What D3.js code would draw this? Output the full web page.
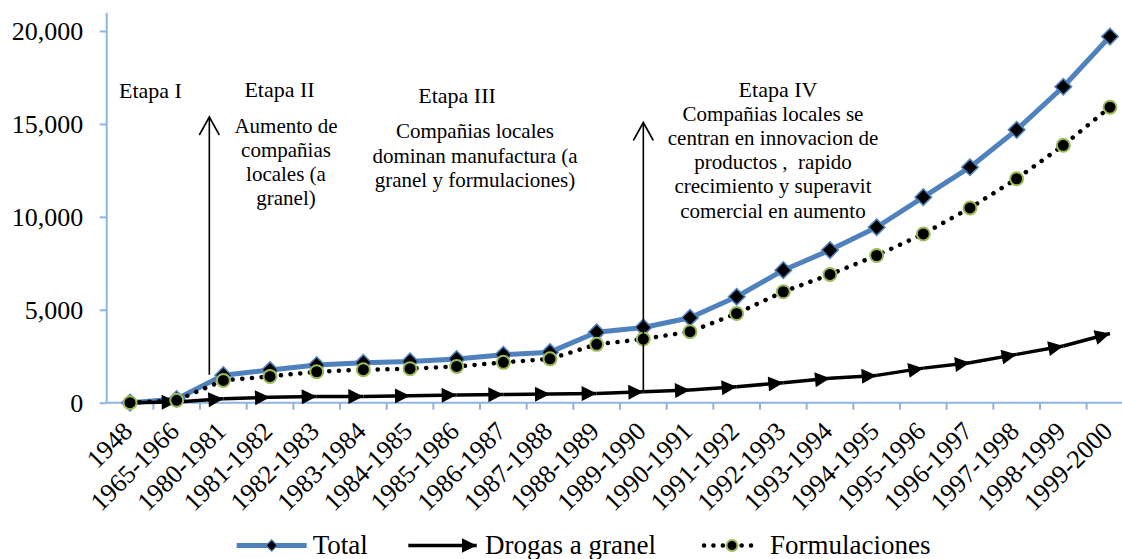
<!DOCTYPE html>
<html><head><meta charset="utf-8">
<script src="https://cdn.jsdelivr.net/npm/d3@7"></script>
<style>html,body{margin:0;padding:0;background:#fff;overflow:hidden}
svg text{font-family:"Liberation Serif","Times New Roman",Times,serif}</style>
</head><body><svg id="c" width="1122" height="559"></svg>
<script>
const categories = ["1948","1965-1966","1980-1981","1981-1982","1982-1983","1983-1984","1984-1985","1985-1986","1986-1987","1987-1988","1988-1989","1989-1990","1990-1991","1991-1992","1992-1993","1993-1994","1994-1995","1995-1996","1996-1997","1997-1998","1998-1999","1999-2000"];
const total = [0, 200, 1480, 1760, 2030, 2150, 2220, 2350, 2580, 2720, 3790, 4050, 4570, 5700, 7130, 8210, 9440, 11060, 12670, 14680, 17000, 19700];
const drogas = [0, 40, 215, 290, 330, 340, 370, 410, 440, 470, 500, 590, 680, 860, 1075, 1310, 1470, 1860, 2150, 2600, 3050, 3720];
const formulaciones = [0, 130, 1200, 1415, 1665, 1775, 1830, 1950, 2170, 2360, 3140, 3425, 3820, 4800, 5970, 6900, 7920, 9080, 10480, 12050, 13850, 15900];
const yTicks = [0, 5000, 10000, 15000, 20000];
const seriesNames = ["Total", "Drogas a granel", "Formulaciones"];
const etapaTitles = ["Etapa I", "Etapa II", "Etapa III", "Etapa IV"];
const etapa2Text = ["Aumento de", "compañias", "locales (a", "granel)"];
const etapa3Text = ["Compañias locales", "dominan manufactura (a", "granel y formulaciones)"];
const etapa4Text = ["Compañias locales se", "centran en innovacion de", "productos ,  rapido", "crecimiento y superavit", "comercial en aumento"];

const FONT = '"Liberation Serif","Times New Roman",Times,serif';
const AXIS = "#8EB4E3";
const BLUE = "#4F81BD";
const GREEN = "#9BBB59";

const svg = d3.select("#c");
const x = d3.scaleBand().domain(categories).range([106.7, 1133.3]);
const y = d3.scaleLinear().domain([0, 20000]).range([402.7, 31]);
const cx = c => x(c) + x.bandwidth() / 2;

const defs = svg.append("defs");
defs.append("marker").attr("id", "tri")
  .attr("viewBox", "0 0 10 10").attr("refX", 10).attr("refY", 5)
  .attr("markerUnits", "userSpaceOnUse").attr("markerWidth", 16).attr("markerHeight", 15)
  .attr("orient", "auto")
  .append("path").attr("d", "M0,0 L10,5 L0,10 Z").attr("fill", "#000");
defs.append("marker").attr("id", "triLeg")
  .attr("viewBox", "0 0 10 10").attr("refX", 10).attr("refY", 5)
  .attr("markerUnits", "userSpaceOnUse").attr("markerWidth", 15).attr("markerHeight", 15)
  .attr("orient", "auto")
  .append("path").attr("d", "M0,0 L10,5 L0,10 Z").attr("fill", "#000");

// Y axis
const yAxis = svg.append("g").attr("transform", "translate(106.7,0)")
  .call(d3.axisLeft(y).tickValues(yTicks).tickFormat(d3.format(",")).tickSize(7).tickPadding(16.5));
yAxis.attr("font-family", null).attr("font-size", null);
yAxis.select(".domain").remove();
yAxis.selectAll(".tick line").attr("stroke", AXIS).attr("stroke-width", 2);
yAxis.selectAll(".tick text").style("font-family", FONT).style("font-size", "26px").attr("fill", "#000");
svg.append("line").attr("x1", 106.7).attr("x2", 106.7).attr("y1", 13).attr("y2", y(0))
  .attr("stroke", AXIS).attr("stroke-width", 2);

// X axis
const xAxis = svg.append("g").attr("transform", `translate(0,${y(0)})`)
  .call(d3.axisBottom(x).tickSize(0));
xAxis.attr("font-family", null).attr("font-size", null);
xAxis.select(".domain").remove();
xAxis.selectAll(".tick text")
  .style("font-family", FONT).style("font-size", "26px").attr("fill", "#000")
  .attr("text-anchor", "end").attr("y", 0).attr("dy", 0)
  .attr("transform", "translate(4,30) rotate(-45)");
svg.append("line").attr("x1", 106.7).attr("x2", 1122).attr("y1", y(0)).attr("y2", y(0))
  .attr("stroke", AXIS).attr("stroke-width", 2);
svg.append("g").selectAll("line").data(categories.slice(1)).join("line")
  .attr("x1", d => x(d)).attr("x2", d => x(d))
  .attr("y1", y(0)).attr("y2", y(0) + 7)
  .attr("stroke", AXIS).attr("stroke-width", 2);

const pts = arr => categories.map((c, i) => [cx(c), y(arr[i])]);
const line = d3.line();

// Total
svg.append("path").attr("d", line(pts(total))).attr("fill", "none")
  .attr("stroke", BLUE).attr("stroke-width", 5).attr("stroke-linejoin", "round");
svg.append("g").selectAll("path").data(pts(total)).join("path")
  .attr("d", d3.symbol(d3.symbolSquare, 135)())
  .attr("transform", d => `translate(${d[0]},${d[1]}) rotate(45)`)
  .attr("fill", "#000").attr("stroke", BLUE).attr("stroke-width", 1.6);

// Drogas a granel
const dp = pts(drogas);
svg.append("g").selectAll("line").data(d3.pairs(dp)).join("line")
  .attr("x1", d => d[0][0]).attr("y1", d => d[0][1])
  .attr("x2", d => d[1][0]).attr("y2", d => d[1][1])
  .attr("stroke", "#000").attr("stroke-width", 3.5)
  .attr("marker-end", "url(#tri)");

// Formulaciones
svg.append("path").attr("d", line(pts(formulaciones))).attr("fill", "none")
  .attr("stroke", "#000").attr("stroke-width", 4.5).attr("stroke-linecap", "round")
  .attr("stroke-dasharray", "0.1 9.6");
svg.append("g").selectAll("circle").data(pts(formulaciones)).join("circle")
  .attr("cx", d => d[0]).attr("cy", d => d[1]).attr("r", 6.5)
  .attr("fill", "#000").attr("stroke", GREEN).attr("stroke-width", 2);

// Stage arrows
function vArrow(xp, yBottom, yTip) {
  const g = svg.append("g").attr("stroke", "#000").attr("stroke-width", 1.6).attr("fill", "none");
  g.append("line").attr("x1", xp).attr("x2", xp).attr("y1", yBottom).attr("y2", yTip);
  g.append("path").attr("d", `M${xp - 10},${yTip + 18} L${xp},${yTip} L${xp + 10},${yTip + 18}`);
}
vArrow(x("1980-1981") + 9.3, y(1500), 117);
vArrow(cx("1989-1990"), y(drogas[categories.indexOf("1989-1990")]), 122.5);

// Stage annotations
function txt(str, xp, yp, size, anchor) {
  svg.append("text").attr("x", xp).attr("y", yp)
    .style("font-family", FONT).style("font-size", size + "px")
    .attr("text-anchor", anchor || "middle")
    .style("white-space", "pre").attr("fill", "#000").text(str);
}
txt(etapaTitles[0], 119, 98, 22, "start");
txt(etapaTitles[1], 279.5, 96.7, 22);
txt(etapaTitles[2], 457, 103.3, 22);
txt(etapaTitles[3], 778, 96.7, 22);
etapa2Text.forEach((s, i) => txt(s, 286, 132.7 + i * 24, 21));
etapa3Text.forEach((s, i) => txt(s, 475, 138.3 + i * 24.4, 21));
etapa4Text.forEach((s, i) => txt(s, 773, 120.7 + i * 24.2, 21));

// Legend
const lg = svg.append("g");
const LY = 545.5;
lg.append("line").attr("x1", 236.7).attr("x2", 306.7).attr("y1", LY).attr("y2", LY)
  .attr("stroke", BLUE).attr("stroke-width", 5);
lg.append("path").attr("d", d3.symbol(d3.symbolSquare, 64)())
  .attr("transform", `translate(271.7,${LY}) rotate(45)`)
  .attr("fill", "#000").attr("stroke", BLUE).attr("stroke-width", 1.2);
lg.append("line").attr("x1", 408.3).attr("x2", 476.7).attr("y1", LY).attr("y2", LY)
  .attr("stroke", "#000").attr("stroke-width", 3.5).attr("marker-end", "url(#triLeg)");
lg.append("line").attr("x1", 704).attr("x2", 760).attr("y1", LY).attr("y2", LY)
  .attr("stroke", "#000").attr("stroke-width", 4.5).attr("stroke-linecap", "round")
  .attr("stroke-dasharray", "0.1 9.3");
lg.append("circle").attr("cx", 732).attr("cy", LY).attr("r", 5.5)
  .attr("fill", "#000").attr("stroke", GREEN).attr("stroke-width", 2);
[[seriesNames[0], 312.7], [seriesNames[1], 485], [seriesNames[2], 770]].forEach(([s, xp]) => {
  lg.append("text").attr("x", xp).attr("y", 553.5)
    .style("font-family", FONT).style("font-size", "27px").attr("fill", "#000").text(s);
});
</script></body></html>
